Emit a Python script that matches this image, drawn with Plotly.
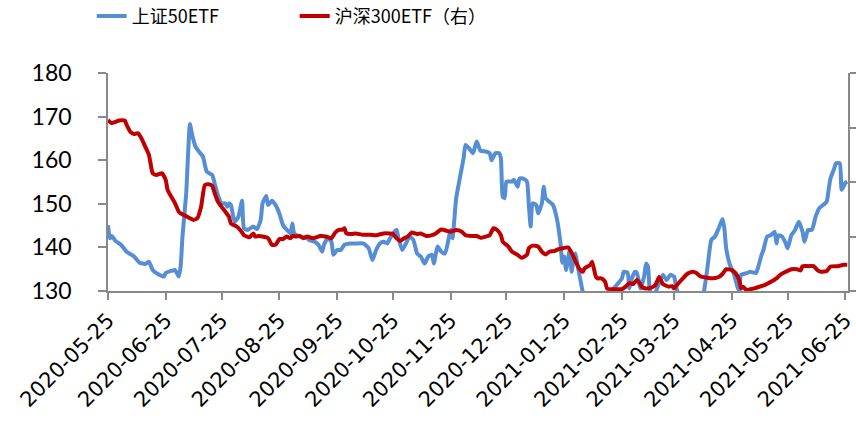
import plotly.graph_objects as go

blue_dates = [
    "2020-05-25","2020-05-26","2020-05-27","2020-05-29","2020-05-31","2020-06-01","2020-06-04","2020-06-08",
    "2020-06-11","2020-06-14","2020-06-16","2020-06-18","2020-06-20","2020-06-24","2020-06-25","2020-06-28",
    "2020-06-30","2020-07-02","2020-07-03","2020-07-04","2020-07-06","2020-07-08","2020-07-09","2020-07-11",
    "2020-07-13","2020-07-15","2020-07-17","2020-07-20","2020-07-21","2020-07-23","2020-07-25","2020-07-27",
    "2020-07-28","2020-07-29","2020-07-30","2020-08-01","2020-08-03","2020-08-05","2020-08-06","2020-08-08",
    "2020-08-11","2020-08-13","2020-08-15","2020-08-16","2020-08-18","2020-08-19","2020-08-21","2020-08-23",
    "2020-08-25","2020-08-27","2020-08-30","2020-08-31","2020-09-01","2020-09-02","2020-09-05","2020-09-09",
    "2020-09-10","2020-09-13","2020-09-15","2020-09-17","2020-09-18","2020-09-20","2020-09-22","2020-09-23",
    "2020-09-25","2020-09-27","2020-09-29","2020-10-02","2020-10-05","2020-10-09","2020-10-12","2020-10-14",
    "2020-10-16","2020-10-18","2020-10-20","2020-10-22","2020-10-23","2020-10-25","2020-10-27","2020-10-28",
    "2020-10-30","2020-11-01","2020-11-03","2020-11-05","2020-11-07","2020-11-09","2020-11-11","2020-11-13",
    "2020-11-15","2020-11-16","2020-11-18","2020-11-20","2020-11-22","2020-11-24","2020-11-25","2020-11-26",
    "2020-11-28","2020-11-30","2020-12-02","2020-12-03","2020-12-05","2020-12-07","2020-12-09","2020-12-11",
    "2020-12-14","2020-12-16","2020-12-17","2020-12-19","2020-12-21","2020-12-22","2020-12-23","2020-12-24",
    "2020-12-25","2020-12-28","2020-12-29","2020-12-31","2021-01-01","2021-01-03","2021-01-05","2021-01-06",
    "2021-01-07","2021-01-08","2021-01-10","2021-01-11","2021-01-13","2021-01-14","2021-01-15","2021-01-17",
    "2021-01-19","2021-01-21","2021-01-23","2021-01-24","2021-01-25","2021-01-26","2021-01-27","2021-01-28",
    "2021-01-29","2021-01-30","2021-01-31","2021-02-01","2021-02-02","2021-02-04","2021-02-07","2021-02-13",
    "2021-02-19","2021-02-20","2021-02-23","2021-02-25","2021-02-26","2021-02-28","2021-03-01","2021-03-02",
    "2021-03-04","2021-03-05","2021-03-07","2021-03-09","2021-03-10","2021-03-11","2021-03-12","2021-03-14",
    "2021-03-17","2021-03-19","2021-03-21","2021-03-23","2021-03-25","2021-03-26","2021-03-28","2021-04-02",
    "2021-04-08","2021-04-10","2021-04-12","2021-04-14","2021-04-16","2021-04-18","2021-04-20","2021-04-21",
    "2021-04-22","2021-04-24","2021-04-26","2021-04-28","2021-04-29","2021-04-30","2021-05-03","2021-05-05",
    "2021-05-08","2021-05-09","2021-05-11","2021-05-12","2021-05-14","2021-05-16","2021-05-18","2021-05-19",
    "2021-05-20","2021-05-22","2021-05-24","2021-05-25","2021-05-27","2021-05-29","2021-05-31","2021-06-02",
    "2021-06-03","2021-06-05","2021-06-07","2021-06-09","2021-06-11","2021-06-13","2021-06-15","2021-06-16",
    "2021-06-17","2021-06-19","2021-06-20","2021-06-22","2021-06-23","2021-06-25","2021-06-26",
]
blue_values = [
    145.1,142.1,142.6,141.5,140.9,140.6,139.0,137.9,
    136.5,136.2,136.7,134.8,134.1,133.3,134.1,134.6,
    134.8,133.3,135.6,142.5,152.4,168.3,166.2,163.1,
    161.9,160.8,157.4,156.6,155.1,152.0,150.1,150.1,
    149.3,150.1,149.7,145.9,147.0,150.7,144.4,144.0,
    144.8,144.2,146.3,150.1,151.8,149.7,150.7,149.7,
    147.8,145.1,143.6,143.2,145.5,143.2,142.5,142.1,
    141.7,141.3,140.6,139.0,140.6,142.1,141.3,138.3,
    139.4,139.4,140.6,140.9,140.9,140.9,139.8,137.1,
    139.4,140.9,141.3,140.9,141.7,143.2,144.0,142.1,
    139.4,140.9,142.5,141.7,138.6,137.9,136.3,137.9,
    138.3,136.3,140.2,139.0,138.6,142.1,144.0,142.1,
    151.3,156.0,160.5,163.5,162.7,161.6,164.3,162.2,
    162.0,161.6,160.0,161.6,161.6,160.4,151.6,151.3,
    155.1,155.1,155.5,153.9,155.8,155.8,155.1,149.7,
    144.8,150.1,149.7,147.8,150.1,153.9,151.3,150.5,
    149.7,146.7,141.0,136.5,137.9,134.8,137.1,139.4,
    134.4,137.5,138.6,136.3,134.1,129.8,126.5,125.5,
    128.5,130.2,131.8,132.9,134.4,134.2,130.6,132.5,
    134.4,134.2,130.6,133.5,136.3,135.6,130.2,128.8,
    131.8,133.7,132.5,133.7,133.3,131.2,128.5,126.5,
    127.5,129.8,135.6,141.7,142.5,144.4,146.5,144.4,
    139.8,136.0,134.1,131.0,130.0,133.7,134.1,134.4,
    134.1,135.2,138.3,139.4,142.5,142.8,143.6,140.9,
    142.8,142.5,140.9,139.8,142.8,144.0,145.9,143.6,
    141.3,144.0,144.0,147.0,149.0,149.7,150.5,153.2,
    155.8,158.1,159.3,159.3,153.2,154.8,155.1,
]

red_dates = [
    "2020-05-25","2020-05-27","2020-05-29","2020-05-31","2020-06-03","2020-06-04","2020-06-06","2020-06-08",
    "2020-06-10","2020-06-12","2020-06-14","2020-06-16","2020-06-17","2020-06-18","2020-06-20","2020-06-23",
    "2020-06-25","2020-06-26","2020-06-28","2020-06-30","2020-07-02","2020-07-03","2020-07-05","2020-07-08",
    "2020-07-10","2020-07-12","2020-07-14","2020-07-16","2020-07-18","2020-07-20","2020-07-21","2020-07-23",
    "2020-07-25","2020-07-27","2020-07-29","2020-07-30","2020-08-02","2020-08-04","2020-08-06","2020-08-07",
    "2020-08-09","2020-08-11","2020-08-12","2020-08-14","2020-08-16","2020-08-19","2020-08-21","2020-08-23",
    "2020-08-25","2020-08-27","2020-08-29","2020-08-31","2020-09-01","2020-09-03","2020-09-05","2020-09-07",
    "2020-09-09","2020-09-12","2020-09-16","2020-09-19","2020-09-22","2020-09-24","2020-09-26","2020-09-28",
    "2020-09-29","2020-09-30","2020-10-03","2020-10-05","2020-10-09","2020-10-13","2020-10-16","2020-10-20",
    "2020-10-23","2020-10-25","2020-10-27","2020-10-29","2020-10-31","2020-11-02","2020-11-04","2020-11-07",
    "2020-11-09","2020-11-12","2020-11-15","2020-11-17","2020-11-20","2020-11-23","2020-11-25","2020-11-28",
    "2020-12-01","2020-12-03","2020-12-06","2020-12-09","2020-12-11","2020-12-14","2020-12-16","2020-12-18",
    "2020-12-20","2020-12-22","2020-12-23","2020-12-26","2020-12-28","2020-12-31","2021-01-02","2021-01-05",
    "2021-01-06","2021-01-08","2021-01-11","2021-01-13","2021-01-15","2021-01-17","2021-01-20","2021-01-22",
    "2021-01-24","2021-01-27","2021-01-29","2021-01-31","2021-02-02","2021-02-04","2021-02-05","2021-02-08",
    "2021-02-09","2021-02-11","2021-02-12","2021-02-14","2021-02-16","2021-02-17","2021-02-20","2021-02-23",
    "2021-02-25","2021-02-27","2021-03-01","2021-03-03","2021-03-05","2021-03-06","2021-03-08","2021-03-10",
    "2021-03-13","2021-03-15","2021-03-17","2021-03-19","2021-03-22","2021-03-24","2021-03-25","2021-03-27",
    "2021-03-30","2021-04-01","2021-04-04","2021-04-06","2021-04-08","2021-04-11","2021-04-15","2021-04-18",
    "2021-04-20","2021-04-22","2021-04-25","2021-04-27","2021-04-29","2021-04-30","2021-05-01","2021-05-03",
    "2021-05-05","2021-05-07","2021-05-10","2021-05-13","2021-05-16","2021-05-19","2021-05-21","2021-05-24",
    "2021-05-27","2021-05-30","2021-06-01","2021-06-02","2021-06-05","2021-06-08","2021-06-10","2021-06-12",
    "2021-06-15","2021-06-17","2021-06-21","2021-06-24","2021-06-26",
]
red_values = [
    169.2,168.5,168.8,169.1,169.1,168.1,166.5,166.0,
    166.2,165.0,163.1,161.2,158.9,157.0,156.6,157.0,
    155.5,153.2,151.6,150.1,148.2,147.8,147.4,146.7,
    146.3,146.7,149.3,154.3,154.5,154.1,152.8,150.5,
    149.3,148.2,147.0,145.5,144.8,144.0,142.8,142.6,
    142.3,143.2,142.5,142.6,142.5,142.1,140.6,140.6,
    141.9,141.9,142.5,142.1,142.6,142.5,142.6,142.1,
    142.5,142.1,142.6,142.5,142.1,143.4,144.0,144.1,
    144.4,143.2,143.1,143.2,142.9,142.9,142.8,143.2,
    143.2,143.1,142.1,141.5,142.1,142.5,143.4,143.1,
    143.2,142.6,142.8,143.2,144.1,143.8,143.6,144.0,
    143.6,142.8,142.6,142.6,142.2,142.5,142.8,144.4,
    144.0,142.8,141.3,140.2,139.0,138.3,137.6,138.3,
    139.8,140.4,140.2,139.0,138.4,139.0,139.2,139.6,
    139.8,140.0,138.8,136.9,135.2,134.4,135.2,136.0,
    136.7,133.3,132.9,132.9,132.1,130.6,130.4,130.4,
    130.4,131.0,131.8,131.6,132.5,132.1,130.8,130.6,
    130.8,131.4,133.2,131.6,131.0,131.1,130.6,131.6,
    133.0,133.9,134.4,134.1,133.4,133.1,132.9,133.2,
    133.9,135.0,134.8,134.1,132.5,130.6,131.0,130.2,
    130.4,130.6,131.0,131.4,132.1,132.9,133.7,134.4,
    135.0,135.0,134.7,135.7,135.7,135.7,134.8,134.4,
    134.6,135.6,135.7,136.0,136.0,
]

tick_dates = [
    "2020-05-25","2020-06-25","2020-07-25","2020-08-25","2020-09-25","2020-10-25","2020-11-25",
    "2020-12-25","2021-01-25","2021-02-25","2021-03-25","2021-04-25","2021-05-25","2021-06-25",
]
left_ticks = [130, 140, 150, 160, 170, 180]
right_ticks = [130, 142.5, 155, 167.5, 180]

AX = "#898989"

fig = go.Figure()
fig.add_trace(go.Scatter(x=blue_dates, y=blue_values, mode="lines", name="上证50ETF",
                         line=dict(color="#558ED5", width=4, shape="spline", smoothing=0.5)))
fig.add_trace(go.Scatter(x=red_dates, y=red_values, mode="lines", name="沪深300ETF（右）",
                         yaxis="y2",
                         line=dict(color="#C00000", width=4, shape="spline", smoothing=0.5)))

fig.update_layout(
    width=856, height=421,
    margin=dict(l=108, r=8, t=73, b=130, autoexpand=False),
    paper_bgcolor="white", plot_bgcolor="white",
    showlegend=True,
    legend=dict(orientation="h", x=-0.022, xanchor="left", y=1.26, yanchor="middle",
                font=dict(family="Noto Sans CJK SC", size=18, color="#000000"),
                entrywidth=158, entrywidthmode="pixels", itemwidth=30,
                bgcolor="rgba(0,0,0,0)"),
    xaxis=dict(type="date", range=["2020-05-25", "2021-06-26 10:00"],
               tickvals=tick_dates, ticktext=tick_dates, tickangle=-45,
               automargin=False, ticklabeloverflow="allow",
               showgrid=False, zeroline=False,
               showline=True, linecolor=AX, linewidth=1.5,
               ticks="outside", ticklen=7, tickcolor=AX, tickwidth=1.5,
               tickfont=dict(family="DejaVu Sans", size=21, color="#000000")),
    yaxis=dict(range=[130, 180], tickvals=left_ticks,
               automargin=False,
               showgrid=False, zeroline=False,
               showline=True, linecolor=AX, linewidth=1.5,
               ticks="outside", ticklen=8, tickcolor=AX, tickwidth=1.5,
               ticklabelstandoff=22,
               tickfont=dict(family="Lato", size=23, color="#000000")),
    yaxis2=dict(range=[130, 180], tickvals=right_ticks, overlaying="y", side="right",
                automargin=False,
                showticklabels=False, showgrid=False, zeroline=False,
                showline=True, linecolor=AX, linewidth=1.5,
                ticks="outside", ticklen=8, tickcolor=AX, tickwidth=1.5),
)

fig.write_html("out.html", config={"displayModeBar": False},
               post_script="document.body.style.margin='0';document.body.style.overflow='hidden';")
